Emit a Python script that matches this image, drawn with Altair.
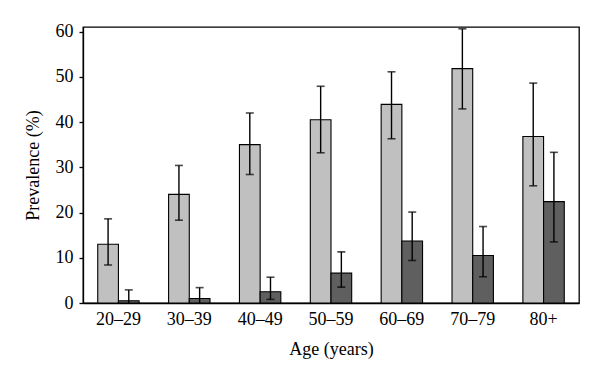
import altair as alt
import pandas as pd

ages = ["20–29", "30–39", "40–49", "50–59", "60–69", "70–79", "80+"]
group_a = [13.0, 24.0, 35.0, 40.5, 43.9, 51.8, 36.8]
group_a_lo = [8.4, 18.3, 28.4, 33.2, 36.3, 42.9, 25.9]
group_a_hi = [18.6, 30.4, 42.0, 47.9, 51.1, 60.6, 48.6]
group_b = [0.5, 1.0, 2.5, 6.6, 13.7, 10.5, 22.4]
group_b_lo = [0.0, 0.0, 0.8, 3.5, 9.4, 5.8, 13.5]
group_b_hi = [2.9, 3.4, 5.7, 11.3, 20.1, 16.9, 33.3]

rows = []
for i, a in enumerate(ages):
    rows.append({"age": a, "grp": "A", "v": group_a[i], "lo": group_a_lo[i], "hi": group_a_hi[i]})
    rows.append({"age": a, "grp": "B", "v": group_b[i], "lo": group_b_lo[i], "hi": group_b_hi[i]})
df = pd.DataFrame(rows)

FONT = "Liberation Serif"
FS = 18

x = alt.X("age:N", sort=ages, title="Age (years)",
          scale=alt.Scale(paddingInner=0.416, paddingOuter=0.208),
          axis=alt.Axis(labelAngle=0, ticks=False, labelPadding=7, titlePadding=12))
xo = alt.XOffset("grp:N", scale=alt.Scale(paddingInner=0, paddingOuter=0))
yscale = alt.Scale(domain=[0, 61], nice=False)

bars = alt.Chart(df).mark_bar(stroke="black", strokeWidth=1.1).encode(
    x=x, xOffset=xo,
    y=alt.Y("v:Q", scale=yscale, title="Prevalence (%)",
            axis=alt.Axis(values=[0, 10, 20, 30, 40, 50, 60], grid=False, tickSize=4,
                          tickColor="black", tickWidth=1.3, labelPadding=6, titlePadding=13)),
    color=alt.Color("grp:N", scale=alt.Scale(domain=["A", "B"], range=["#c0c0c0", "#5f5f5f"]), legend=None),
)

rule = alt.Chart(df).mark_rule(color="black", strokeWidth=1.4).encode(
    x=alt.X("age:N", sort=ages), xOffset=xo,
    y=alt.Y("lo:Q", scale=yscale), y2="hi:Q",
)
cap_hi = alt.Chart(df).mark_tick(color="black", thickness=1.6, size=8, orient="horizontal").encode(
    x=alt.X("age:N", sort=ages), xOffset=xo,
    y=alt.Y("hi:Q", scale=yscale),
)
cap_lo = alt.Chart(df).transform_filter("datum.lo > 0").mark_tick(
    color="black", thickness=1.6, size=8, orient="horizontal").encode(
    x=alt.X("age:N", sort=ages), xOffset=xo,
    y=alt.Y("lo:Q", scale=yscale),
)

chart = alt.layer(bars, rule, cap_hi, cap_lo).properties(
    width=496, height=276,
    autosize=alt.AutoSizeParams(type="none"),
    padding={"left": 75, "top": 19, "right": 13, "bottom": 73},
).configure_view(stroke="black", strokeWidth=1.3).configure_axis(
    labelFont=FONT, labelFontSize=FS, labelColor="black",
    titleFont=FONT, titleFontSize=FS, titleFontWeight="normal", titleColor="black",
    domainColor="black", domainWidth=1.3,
)

chart.save("out.html", embed_options={"renderer": "svg", "actions": False})
